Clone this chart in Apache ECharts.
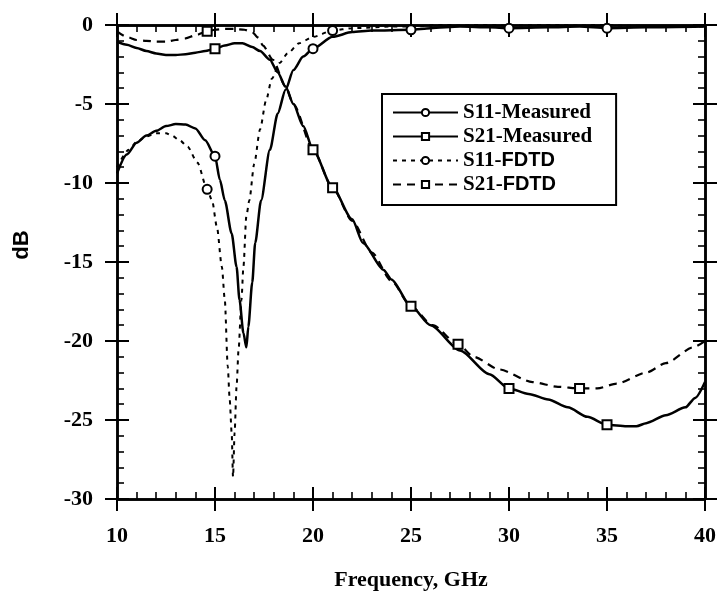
<!DOCTYPE html>
<html>
<head>
<meta charset="utf-8">
<script src="https://cdn.jsdelivr.net/npm/echarts@6/dist/echarts.min.js"></script>
<style>html,body{margin:0;padding:0;background:#fff}#c{width:720px;height:599px}</style>
</head>
<body>
<div id="c"></div>
<script>
// ---- data ----
const xTicks = [10, 15, 20, 25, 30, 35, 40];
const yTicks = [-30, -25, -20, -15, -10, -5, 0];

const s11MeasFreq = [10, 10.5, 11, 11.5, 12, 12.5, 13, 13.5, 14, 14.5, 15, 15.25, 15.5, 15.85, 16.1, 16.25, 16.45, 16.6, 16.7, 16.9, 17.05, 17.35, 17.8, 18.2, 18.6, 19, 19.5, 20, 21, 22, 23, 25, 26, 27.5, 29, 30, 32, 33.6, 35, 37, 40];
const s11MeasDb   = [-9.4, -8.2, -7.45, -7.0, -6.7, -6.4, -6.27, -6.3, -6.55, -7.3, -8.3, -9.8, -11.1, -13.2, -15.3, -17.4, -19.5, -20.4, -19.1, -16.3, -13.8, -11.1, -7.9, -5.6, -4.1, -2.85, -2.0, -1.5, -0.75, -0.45, -0.35, -0.3, -0.2, -0.1, -0.15, -0.2, -0.15, -0.1, -0.2, -0.15, -0.1];
const s11MeasMarks = [15, 20, 25, 30, 35];

const s11FdtdFreq = [10, 10.6, 11, 11.5, 12, 12.5, 12.8, 13.2, 13.6, 14.1, 14.6, 14.85, 15.1, 15.35, 15.5, 15.65, 15.75, 15.85, 15.92, 16.0, 16.1, 16.2, 16.35, 16.45, 16.6, 16.75, 17.0, 17.3, 17.6, 17.9, 18.3, 18.7, 19.3, 20, 21, 22, 24, 25, 27.4, 30, 33.6, 36, 40];
const s11FdtdDb   = [-9.0, -7.9, -7.4, -7.05, -6.85, -6.85, -7.0, -7.3, -7.7, -8.7, -10.4, -11.1, -12.8, -15.3, -17.4, -21.6, -23.7, -25.8, -28.6, -25.8, -22.9, -20.6, -17.4, -15.3, -12.1, -11.1, -8.8, -6.6, -4.8, -3.4, -2.4, -1.8, -1.15, -0.75, -0.35, -0.2, -0.1, -0.1, 0.1, -0.05, 0.1, -0.05, -0.1];
const s11FdtdMarks = [14.6, 21, 27.4, 33.6];

const s21MeasFreq = [10, 10.5, 11, 11.5, 12, 12.5, 13, 13.5, 14, 14.5, 15, 15.5, 16, 16.4, 16.9, 17.3, 17.8, 18.2, 18.6, 19, 19.5, 20, 21, 22, 22.55, 23.6, 24, 25, 26, 27.5, 29, 30, 31, 32, 33, 34, 35, 36, 36.5, 37, 38, 39, 39.5, 40];
const s21MeasDb   = [-1.05, -1.25, -1.45, -1.65, -1.8, -1.9, -1.9, -1.85, -1.75, -1.65, -1.5, -1.3, -1.15, -1.15, -1.4, -1.65, -2.2, -3.0, -3.9, -5.0, -6.4, -7.9, -10.3, -12.3, -13.8, -15.5, -16.1, -17.8, -19.0, -20.6, -22.1, -23.0, -23.35, -23.7, -24.2, -24.8, -25.3, -25.4, -25.4, -25.2, -24.7, -24.2, -23.6, -22.6];
const s21MeasMarks = [15, 20, 25, 30, 35];

const s21FdtdFreq = [10, 10.5, 11, 11.5, 12, 12.5, 13, 13.5, 14, 14.6, 15, 15.5, 16, 16.5, 16.9, 17.2, 17.45, 17.95, 18.6, 19, 20, 21, 22, 23, 24, 25, 26.1, 27.4, 28.2, 29.5, 31.2, 32.5, 33.6, 34.5, 35.5, 37, 38, 39.4, 40];
const s21FdtdDb   = [-0.4, -0.75, -0.95, -1.0, -1.05, -1.05, -0.95, -0.85, -0.65, -0.4, -0.3, -0.25, -0.25, -0.3, -0.45, -0.8, -1.3, -2.2, -3.9, -5.0, -7.9, -10.3, -12.4, -14.4, -16.2, -17.8, -19.0, -20.2, -21.0, -21.8, -22.6, -22.9, -23.0, -23.0, -22.7, -22.0, -21.4, -20.4, -20.0];
const s21FdtdMarks = [14.6, 21, 27.4, 33.6];

const seriesNames = ['S11-Measured', 'S21-Measured', 'S11-FDTD', 'S21-FDTD'];

// ---- build ----
function build(freq, db, marks, sym) {
  return freq.map((f, i) => marks.indexOf(f) >= 0
    ? { value: [f, db[i]], symbol: sym }
    : { value: [f, db[i]], symbol: 'none' });
}
const serif = 'Liberation Serif';
const sans = 'Liberation Sans';
const black = '#000';

function xAx(pos, inside, labels) {
  const a = {
    type: 'value', position: pos, min: xTicks[0], max: xTicks[xTicks.length - 1], interval: xTicks[1] - xTicks[0],
    axisLine: { show: true, onZero: false, lineStyle: { color: black, width: 2.5 } },
    axisTick: { show: true, inside: inside, length: 12, lineStyle: { color: black, width: 2 } },
    minorTick: { show: inside, splitNumber: 5, length: 7, lineStyle: { color: black, width: 1.6 } },
    splitLine: { show: false }, minorSplitLine: { show: false },
    axisLabel: { show: labels, margin: 26, color: black, fontFamily: serif, fontWeight: 'bold', fontSize: 22 }
  };
  if (labels) {
    a.name = 'Frequency, GHz'; a.nameLocation = 'middle'; a.nameGap = 70;
    a.nameTextStyle = { color: black, fontFamily: serif, fontWeight: 'bold', fontSize: 22 };
  }
  return a;
}
function yAx(pos, inside, labels) {
  return {
    type: 'value', position: pos, min: yTicks[0], max: yTicks[yTicks.length - 1], interval: yTicks[1] - yTicks[0],
    axisLine: { show: true, onZero: false, lineStyle: { color: black, width: 2.5 } },
    axisTick: { show: true, inside: inside, length: 12, lineStyle: { color: black, width: 2 } },
    minorTick: { show: inside, splitNumber: 5, length: 7, lineStyle: { color: black, width: 1.6 } },
    splitLine: { show: false }, minorSplitLine: { show: false },
    axisLabel: { show: labels, margin: 24, color: black, fontFamily: serif, fontWeight: 'bold', fontSize: 22 }
  };
}

function lineSeries(name, freq, db, marks, sym, dash, width) {
  return {
    name: name, type: 'line', xAxisIndex: 0, yAxisIndex: 0,
    data: build(freq, db, marks, sym),
    symbol: sym, symbolSize: 9, showSymbol: true,
    smooth: 0.25, smoothMonotone: 'x',
    lineStyle: { color: black, width: width, type: dash },
    itemStyle: { color: '#fff', borderColor: black, borderWidth: 2 },
    emphasis: { disabled: true }, animation: false, z: 3
  };
}

const chart = echarts.init(document.getElementById('c'), null, { renderer: 'canvas' });
chart.setOption({
  backgroundColor: '#fff',
  animation: false,
  grid: { left: 117, right: 15, top: 25, bottom: 100, containLabel: false },
  xAxis: [xAx('bottom', false, true), xAx('bottom', true, false), xAx('top', false, false), xAx('top', true, false)],
  yAxis: [yAx('left', false, true), yAx('left', true, false), yAx('right', false, false), yAx('right', true, false)],
  legend: {
    orient: 'vertical', left: 382, top: 94, padding: [8, 24, 10, 10], itemGap: 3,
    itemWidth: 65, itemHeight: 9, borderColor: black, borderWidth: 2, backgroundColor: '#fff',
    data: seriesNames, selectedMode: false,
    formatter: function (name) {
      const p = name.split('-');
      return p[1] === 'FDTD' ? '{a|' + p[0] + '-}{b|FDTD}' : '{a|' + name + '}';
    },
    textStyle: {
      rich: {
        a: { fontFamily: serif, fontWeight: 'bold', fontSize: 21, lineHeight: 22, color: black },
        b: { fontFamily: sans, fontWeight: 'bold', fontSize: 20, lineHeight: 22, color: black }
      }
    }
  },
  graphic: [{
    type: 'text', x: 22, y: 245, rotation: Math.PI / 2,
    style: { text: 'dB', fill: black, font: 'bold 22px "Liberation Sans"', textAlign: 'center', textVerticalAlign: 'middle' }
  }],
  series: [
    lineSeries('S11-Measured', s11MeasFreq, s11MeasDb, s11MeasMarks, 'circle', 'solid', 2.5),
    lineSeries('S21-Measured', s21MeasFreq, s21MeasDb, s21MeasMarks, 'rect', 'solid', 2.5),
    lineSeries('S11-FDTD', s11FdtdFreq, s11FdtdDb, s11FdtdMarks, 'circle', [4, 5], 2),
    lineSeries('S21-FDTD', s21FdtdFreq, s21FdtdDb, s21FdtdMarks, 'rect', [8, 6], 2.2)
  ]
});
</script>
</body>
</html>
